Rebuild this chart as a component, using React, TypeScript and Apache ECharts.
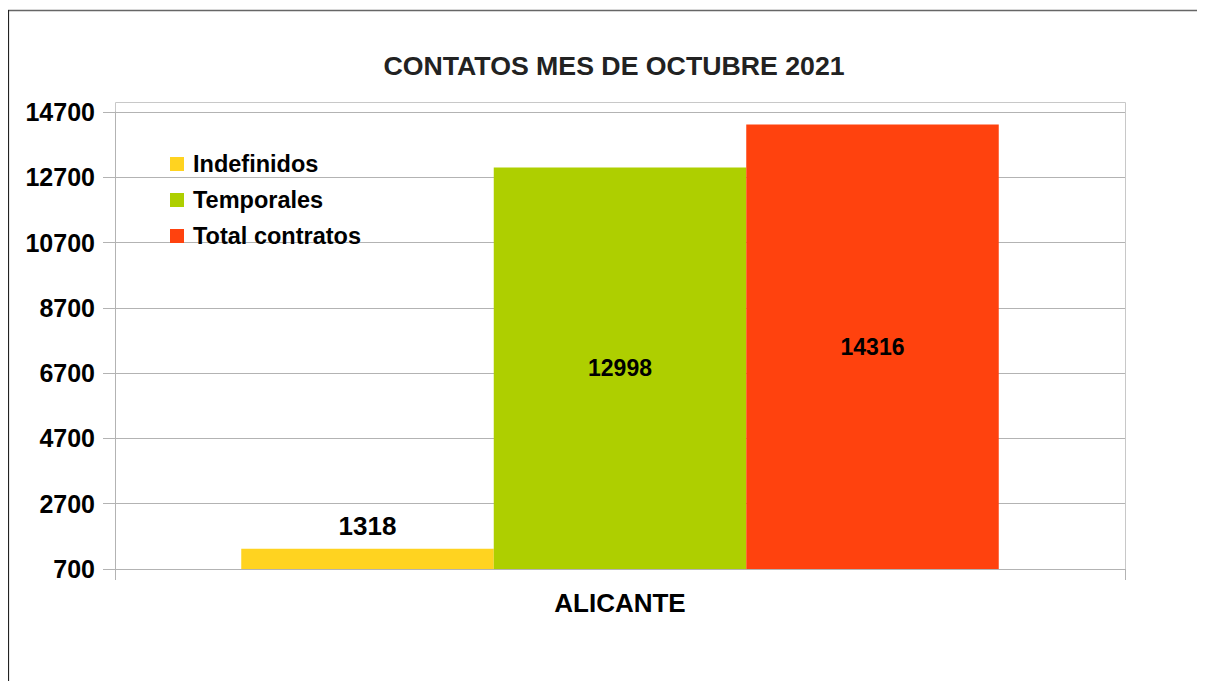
import React, { useEffect, useRef } from "react";
import * as echarts from "echarts";

const categories = ["ALICANTE"];
const seriesNames = ["Indefinidos", "Temporales", "Total contratos"];
const indefinidos = [1318];
const temporales = [12998];
const totalContratos = [14316];
const colors = ["#ffd320", "#aecf00", "#ff420e"];
const yMin = 700;
const yMax = 14700;
const yInterval = 2000;
const title = "CONTATOS MES DE OCTUBRE 2021";

const FONT = "'Liberation Sans', Arial, sans-serif";

export default function App() {
  const ref = useRef<HTMLDivElement>(null);
  useEffect(() => {
    if (!ref.current) return;
    const chart = echarts.init(ref.current, undefined, { renderer: "svg" });
    const gridLeft = 107;
    const gridTop = 104;
    const gridRight = 80;
    const gridBottom = 112;
    const W = 1197;
    const H = 673;
    const bold = { fontFamily: FONT, fontWeight: "bold" as const, color: "#000" };
    const values = [indefinidos, temporales, totalContratos];
    chart.setOption({
      animation: false,
      backgroundColor: "#fff",
      textStyle: { fontFamily: FONT },
      title: {
        text: title,
        left: 606,
        top: 44,
        padding: 0,
        textAlign: "center",
        textStyle: { fontFamily: FONT, fontWeight: "bold", fontSize: 26.7, color: "#222" },
      },
      legend: {
        orient: "vertical",
        left: 162,
        top: 144,
        padding: 0,
        itemWidth: 14,
        itemHeight: 14,
        itemGap: 12,
        icon: "rect",
        textStyle: { ...bold, fontSize: 23.5, padding: [0, 0, 0, 4] },
        data: seriesNames,
      },
      grid: { left: gridLeft, top: gridTop, right: gridRight, bottom: gridBottom, containLabel: false },
      xAxis: {
        type: "category",
        data: categories,
        axisLine: { lineStyle: { color: "#b3b3b3", width: 1 } },
        axisTick: { show: true, length: 11, lineStyle: { color: "#b3b3b3" }, alignWithLabel: false },
        axisLabel: { ...bold, fontSize: 26, margin: 21 },
      },
      yAxis: {
        type: "value",
        min: yMin,
        max: yMax,
        interval: yInterval,
        axisLine: { show: true, lineStyle: { color: "#b3b3b3" } },
        axisTick: { show: true, length: 12, lineStyle: { color: "#b3b3b3" } },
        axisLabel: { ...bold, fontSize: 25, margin: 20, formatter: (v: number) => String(v) },
        splitLine: { lineStyle: { color: "#b3b3b3", width: 1 } },
      },
      series: seriesNames.map((name, i) => ({
        name,
        type: "bar",
        data: values[i],
        barGap: "0%",
        barCategoryGap: "25%",
        itemStyle: { color: colors[i] },
        label: {
          show: true,
          position: i === 0 ? "top" : "inside",
          distance: 10,
          ...bold,
          fontSize: i === 0 ? 26 : 23,
        },
      })),
      graphic: [
        {
          type: "rect",
          shape: { x: gridLeft + 0.5, y: gridTop - 10 + 0.5, width: W - gridLeft - gridRight, height: H - gridBottom - gridTop + 10 },
          style: { fill: "none", stroke: "#c8c8c8", lineWidth: 1 },
          silent: true,
          z: -1,
        },
        {
          type: "line",
          shape: { x1: 0, y1: 2.5, x2: W, y2: 2.5 },
          style: { stroke: "#666", lineWidth: 1.5 },
          silent: true,
        },
        {
          type: "line",
          shape: { x1: 0.5, y1: 2, x2: 0.5, y2: H },
          style: { stroke: "#222", lineWidth: 1.2 },
          silent: true,
        },
      ],
    });
    return () => chart.dispose();
  }, []);
  return <div ref={ref} style={{ width: 1197, height: 673 }} />;
}
